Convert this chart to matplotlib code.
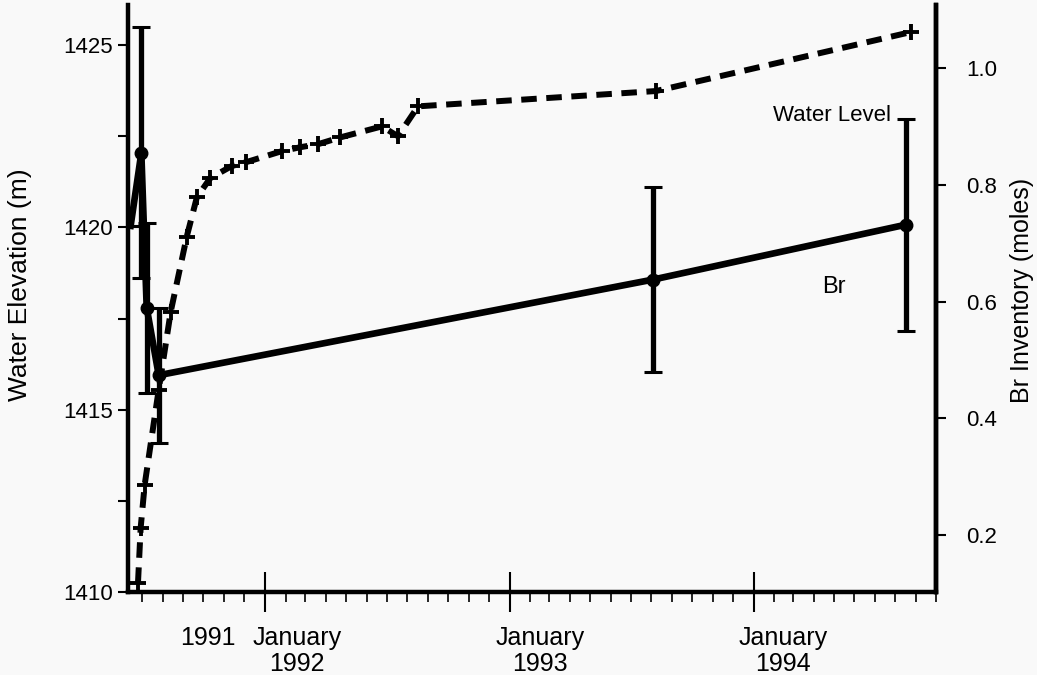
import datetime as dt

import matplotlib
matplotlib.use("Agg")
import matplotlib.pyplot as plt
import matplotlib.dates as mdates
from matplotlib.ticker import MultipleLocator

# water level, left axis (m)
wl_dates = ["1991-06-25", "1991-06-29", "1991-07-05", "1991-07-26", "1991-08-13",
            "1991-09-06", "1991-09-21", "1991-10-11", "1991-11-12", "1991-12-04",
            "1992-01-26", "1992-02-23", "1992-03-20", "1992-04-23", "1992-06-24",
            "1992-07-18", "1992-08-17", "1993-08-08", "1994-08-25"]
wl_elev = [1410.25, 1411.76, 1412.94, 1415.55, 1417.69,
           1419.75, 1420.82, 1421.35, 1421.68, 1421.79,
           1422.09, 1422.20, 1422.28, 1422.47, 1422.77,
           1422.50, 1423.32, 1423.74, 1425.36]

# Br inventory, right axis (moles)
br_dates = ["1991-06-14", "1991-06-30", "1991-07-08", "1991-07-26", "1993-08-04", "1994-08-17"]
br_moles = [0.73, 0.855, 0.590, 0.474, 0.638, 0.732]
br_err_lo = [0.0, 0.214, 0.147, 0.117, 0.158, 0.182]
br_err_hi = [0.0, 0.215, 0.145, 0.116, 0.159, 0.181]

year_labels = ["1991", "January\n1992", "January\n1993", "January\n1994"]
year_label_x = ["1991-10-08", "1992-02-18", "1993-02-16", "1994-02-14"]

wl_x = [dt.datetime.strptime(s, "%Y-%m-%d") for s in wl_dates]
br_x = [dt.datetime.strptime(s, "%Y-%m-%d") for s in br_dates]

plt.rcParams["font.family"] = ["Liberation Sans", "DejaVu Sans"]

fig = plt.figure(figsize=(10.37, 6.75), dpi=100)
fig.patch.set_facecolor("#f9f9f9")
ax = fig.add_axes([0.1234, 0.123, 0.7792, 0.8696])
ax.set_facecolor("#f9f9f9")
ax2 = ax.twinx()

ax.plot(wl_x, wl_elev, color="black", lw=4.3, linestyle=(0, (2.6, 1.6)),
        marker="+", markersize=11, mew=2.8, zorder=3)

ax2.errorbar(br_x, br_moles, yerr=[br_err_lo, br_err_hi], color="black", lw=4.8,
             marker="o", markersize=9, markevery=[1, 2, 3, 4, 5],
             elinewidth=3.8, capsize=6.5, capthick=2.2, zorder=4)

ax.set_xlim(dt.datetime(1991, 6, 10), dt.datetime(1994, 10, 1))
ax.set_ylim(1410, 1426.1)
ax2.set_ylim(0.1025, 1.1085)

ax.yaxis.set_major_locator(MultipleLocator(5))
ax.yaxis.set_minor_locator(MultipleLocator(2.5))
ax2.set_yticks([0.2, 0.4, 0.6, 0.8, 1.0])
ax2.set_yticklabels(["0.2", "0.4", "0.6", "0.8", "1.0"])

ax.xaxis.set_major_locator(mdates.YearLocator())
ax.xaxis.set_minor_locator(mdates.MonthLocator())
ax.xaxis.set_major_formatter(plt.NullFormatter())

for a in (ax, ax2):
    a.spines["top"].set_visible(False)
    for side in ("left", "right", "bottom"):
        a.spines[side].set_linewidth(3.2)
ax2.spines["left"].set_visible(False)
ax2.spines["bottom"].set_visible(False)

ax.tick_params(axis="x", which="major", direction="inout", length=29, width=1.5)
ax.tick_params(axis="x", which="minor", direction="out", length=7, width=1.2)
ax.tick_params(axis="y", which="both", direction="out", length=7, width=1.5, labelsize=16, pad=4)
ax2.tick_params(axis="y", direction="out", length=7, width=1.5, labelsize=16, pad=15)

for lab, xs in zip(year_labels, year_label_x):
    ax.text(dt.datetime.strptime(xs, "%Y-%m-%d"), -0.058, lab, transform=ax.get_xaxis_transform(),
            ha="center", va="top", fontsize=18, linespacing=1.1)

ax.set_ylabel("Water Elevation (m)", fontsize=19)
ax.yaxis.set_label_coords(-0.119, 0.523)
ax2.set_ylabel("Br Inventory (moles)", fontsize=18)
ax2.yaxis.set_label_coords(1.092, 0.514)

ax.text(0.944, 0.812, "Water Level", transform=ax.transAxes, ha="right", va="center", fontsize=16)
ax.text(0.874, 0.52, "Br", transform=ax.transAxes, ha="center", va="center", fontsize=17)

fig.savefig("out.png", dpi=100, facecolor=fig.get_facecolor())
